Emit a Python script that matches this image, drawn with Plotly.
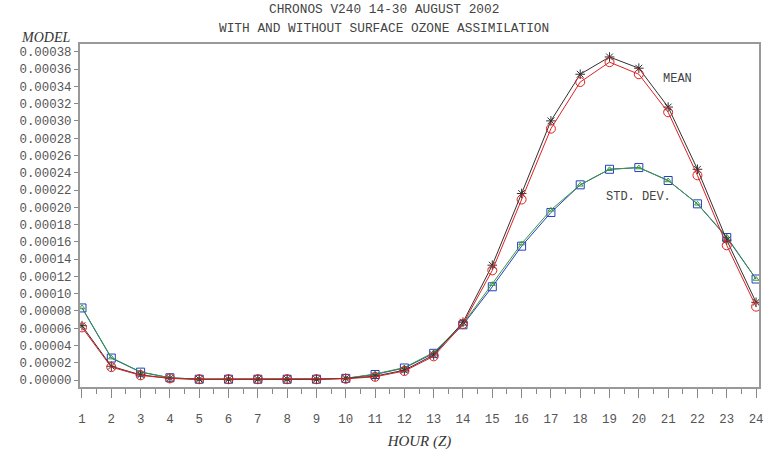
import plotly.graph_objects as go

hours = list(range(1, 25))
mean_no_assim = [6.3e-5, 1.6e-5, 0.6e-5, 0.2e-5, 0.1e-5, 0.1e-5, 0.1e-5, 0.1e-5, 0.1e-5, 0.2e-5,
                 0.45e-5, 1.15e-5, 2.9e-5, 6.7e-5, 13.3e-5, 21.6e-5, 30.0e-5, 35.4e-5, 37.4e-5, 36.1e-5,
                 31.6e-5, 24.4e-5, 16.2e-5, 9.0e-5]
mean_assim = [6.1e-5, 1.5e-5, 0.55e-5, 0.2e-5, 0.1e-5, 0.1e-5, 0.1e-5, 0.1e-5, 0.1e-5, 0.15e-5,
              0.38e-5, 1.05e-5, 2.75e-5, 6.5e-5, 12.7e-5, 20.9e-5, 29.1e-5, 34.5e-5, 36.8e-5, 35.4e-5,
              31.0e-5, 23.7e-5, 15.6e-5, 8.5e-5]
std_no_assim = [8.35e-5, 2.55e-5, 0.92e-5, 0.27e-5, 0.1e-5, 0.1e-5, 0.1e-5, 0.1e-5, 0.1e-5, 0.2e-5,
                0.65e-5, 1.4e-5, 3.1e-5, 6.4e-5, 10.8e-5, 15.5e-5, 19.4e-5, 22.6e-5, 24.4e-5, 24.6e-5,
                23.1e-5, 20.4e-5, 16.5e-5, 11.7e-5]
std_assim = [8.4e-5, 2.6e-5, 0.95e-5, 0.27e-5, 0.1e-5, 0.1e-5, 0.1e-5, 0.1e-5, 0.1e-5, 0.2e-5,
             0.7e-5, 1.45e-5, 3.2e-5, 6.5e-5, 11.1e-5, 15.8e-5, 19.7e-5, 22.6e-5, 24.4e-5, 24.6e-5,
             23.1e-5, 20.4e-5, 16.6e-5, 11.7e-5]
y_ticks = [i * 0.00002 for i in range(20)]

fig = go.Figure()
fig.add_trace(go.Scatter(x=hours, y=std_no_assim, mode="lines+markers",
                         line=dict(color="#2040c0", width=1),
                         marker=dict(symbol="square-open", size=8, color="#2040c0", line=dict(width=1))))
fig.add_trace(go.Scatter(x=hours, y=std_assim, mode="lines+markers",
                         line=dict(color="#3a9a3a", width=1),
                         marker=dict(symbol="triangle-up-open", size=5, color="#3a9a3a", line=dict(width=1))))
fig.add_trace(go.Scatter(x=hours, y=mean_no_assim, mode="lines+markers",
                         line=dict(color="#303030", width=1),
                         marker=dict(symbol="asterisk-open", size=8, color="#303030", line=dict(width=1, color="#303030"))))
fig.add_trace(go.Scatter(x=hours, y=mean_assim, mode="lines+markers",
                         line=dict(color="#e02020", width=1),
                         marker=dict(symbol="circle-open", size=9, color="#e02020", line=dict(width=1))))

mono = "Liberation Mono"
fig.add_annotation(x=20.75, y=0.000348, text="MEAN", showarrow=False, xanchor="left",
                   font=dict(family=mono, size=12, color="#444444"))
fig.add_annotation(x=18.8, y=0.000212, text="STD. DEV.", showarrow=False, xanchor="left",
                   font=dict(family=mono, size=12, color="#444444"))

fig.add_annotation(xref="paper", yref="paper", x=0.448, y=1.1009, xanchor="center", yanchor="middle",
                   text="CHRONOS V240 14-30 AUGUST 2002", showarrow=False,
                   font=dict(family=mono, size=12.8, color="#444444"))
fig.add_annotation(xref="paper", yref="paper", x=0.448, y=1.046, xanchor="center", yanchor="middle",
                   text="WITH AND WITHOUT SURFACE OZONE ASSIMILATION", showarrow=False,
                   font=dict(family=mono, size=12.8, color="#444444"))
fig.add_annotation(xref="paper", yref="paper", x=-0.09, y=1.02, xanchor="left", yanchor="middle",
                   text="<i>MODEL</i>", showarrow=False,
                   font=dict(family="Liberation Serif", size=14, color="#333333"))

fig.update_layout(
    width=769, height=453,
    margin=dict(l=80, r=6, t=44, b=62),
    paper_bgcolor="white", plot_bgcolor="white",
    showlegend=False,
    xaxis=dict(range=[0.932, 24.10], tickmode="array", tickvals=hours, ticktext=[str(h) for h in hours],
               showgrid=False, zeroline=False, showline=True, linecolor="#999999", linewidth=2,
               mirror=True, ticks="outside", ticklen=9, tickcolor="#888888", tickwidth=1,
               ticklabelstandoff=10,
               minor=dict(ticks="outside", ticklen=5, tick0=1.5, dtick=1, tickcolor="#888888", showgrid=False),
               tickfont=dict(family=mono, size=12.4, color="#555555"),
               title=dict(text="<i>HOUR (Z)</i>", font=dict(family="Liberation Serif", size=15, color="#333333"),
                          standoff=10)),
    yaxis=dict(range=[-0.000008, 0.000389], tickmode="array", tickvals=y_ticks,
               ticktext=[f"{v:.5f}" for v in y_ticks],
               showgrid=False, zeroline=False, showline=True, linecolor="#999999", linewidth=2,
               mirror=True, ticks="outside", ticklen=4, tickcolor="#888888",
               tickfont=dict(family=mono, size=12.4, color="#555555")),
)

fig.write_html("out.html", config={"displayModeBar": False},
               post_script="document.body.style.margin='0';")
